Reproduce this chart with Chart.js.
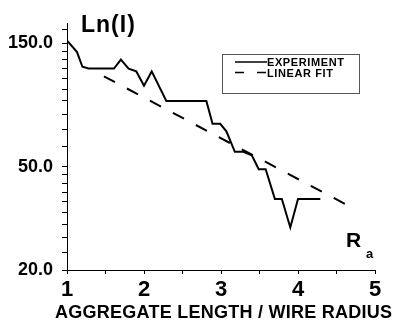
<!DOCTYPE html>
<html>
<head>
<meta charset="utf-8">
<script src="https://cdn.jsdelivr.net/npm/chart.js@4"></script>
<style>
  body { margin: 0; background: #fff; }
  canvas { display: block; }
</style>
</head>
<body>
<canvas id="chart" width="394" height="320"></canvas>
<script>
const expX = [1.00, 1.06, 1.13, 1.20, 1.28, 1.61, 1.70, 1.80, 1.90, 2.00, 2.10, 2.29, 2.81, 2.89, 2.99, 3.07, 3.18, 3.29, 3.40, 3.49, 3.58, 3.70, 3.79, 3.90, 4.00, 4.29];
const expY = [154, 147, 139, 122, 120, 120, 130, 120, 117, 103, 117, 90, 90, 73.4, 73.4, 68.7, 57.2, 57.2, 55.5, 49, 49, 37.6, 37.6, 29.2, 37.6, 37.6];
const fitX = [1.48, 4.61];
const fitY = [112, 36];

const yTicks = [20, 23.3, 26.7, 30, 33.3, 36.7, 40, 43.3, 46.7, 50, 60, 70, 80, 90, 100, 110, 120, 130, 140, 150, 170];
const yLabels = [20, 50, 150];
const xLabels = [1, 2, 3, 4, 5];

const FONT = "'Liberation Sans', Arial, sans-serif";

function toPoints(xs, ys) {
    return xs.map((x, i) => ({ x: x, y: ys[i] }));
}

// legend box, axis names and R_a marker
const extraText = {
    id: 'extraText',
    afterDraw(chart) {
        const c = chart.ctx;
        c.save();
        c.fillStyle = '#000';
        c.textBaseline = 'alphabetic';

        c.font = 'bold 23px ' + FONT;
        c.letterSpacing = '1px';
        c.fillText('Ln(I)', 81, 32);

        c.font = 'bold 18px ' + FONT;
        c.letterSpacing = '0.25px';
        c.fillText('AGGREGATE LENGTH / WIRE RADIUS', 55, 318);
        c.letterSpacing = '0px';

        c.font = 'bold 21px ' + FONT;
        c.fillText('R', 346, 247);
        c.font = 'bold 13px ' + FONT;
        c.fillText('a', 366, 258);

        c.strokeStyle = '#555';
        c.lineWidth = 1;
        c.strokeRect(222.5, 54.5, 137, 39);

        c.strokeStyle = '#000';
        c.lineWidth = 1.5;
        c.beginPath();
        c.moveTo(235, 62);
        c.lineTo(267, 62);
        c.stroke();
        c.setLineDash([9, 13]);
        c.beginPath();
        c.moveTo(235, 72.5);
        c.lineTo(267, 72.5);
        c.stroke();
        c.setLineDash([]);

        c.font = 'bold 11px ' + FONT;
        c.letterSpacing = '0.6px';
        c.fillText('EXPERIMENT', 267, 66);
        c.fillText('LINEAR FIT', 267, 76.5);
        c.restore();
    }
};

const ctx = document.getElementById('chart').getContext('2d');
const chart = new Chart(ctx, {
    type: 'line',
    data: {
        datasets: [{
            label: 'EXPERIMENT',
            data: toPoints(expX, expY),
            borderColor: '#000',
            borderWidth: 2,
            pointRadius: 0,
            tension: 0,
            fill: false
        }, {
            label: 'LINEAR FIT',
            data: toPoints(fitX, fitY),
            borderColor: '#000',
            borderWidth: 2,
            borderDash: [12.5, 13.5],
            pointRadius: 0,
            tension: 0,
            fill: false
        }]
    },
    options: {
        responsive: false,
        animation: false,
        devicePixelRatio: 1,
        layout: { padding: { top: 23, right: 19, bottom: 0, left: 0 } },
        plugins: {
            legend: { display: false },
            tooltip: { enabled: false }
        },
        scales: {
            x: {
                type: 'linear',
                position: 'bottom',
                min: 1,
                max: 5,
                afterFit: s => { s.height = 50; },
                border: { display: true, color: '#000', width: 1 },
                grid: { drawOnChartArea: false, drawTicks: true, tickLength: 4, color: '#000', tickColor: '#000', tickWidth: 1 },
                ticks: {
                    stepSize: 0.5,
                    autoSkip: false,
                    maxRotation: 0,
                    padding: 3,
                    color: '#000',
                    font: { family: FONT, size: 22, weight: 'bold' },
                    callback: v => xLabels.includes(v) ? String(v) : ''
                }
            },
            y: {
                type: 'logarithmic',
                min: 20,
                max: 180,
                afterFit: s => { s.width = 67; },
                afterBuildTicks: s => { s.ticks = yTicks.map(v => ({ value: v })); },
                border: { display: true, color: '#000', width: 1 },
                grid: { drawOnChartArea: false, drawTicks: true, tickLength: 5, color: '#000', tickColor: '#000', tickWidth: 1 },
                ticks: {
                    autoSkip: false,
                    padding: 9,
                    color: '#000',
                    font: { family: FONT, size: 18, weight: 'bold' },
                    callback: v => yLabels.includes(v) ? v.toFixed(1) : ''
                }
            }
        }
    },
    plugins: [extraText]
});
</script>
</body>
</html>
